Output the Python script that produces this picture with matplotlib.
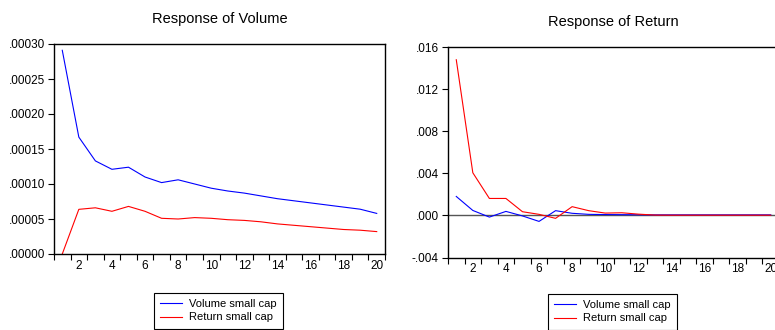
import matplotlib
matplotlib.use("Agg")
import matplotlib.pyplot as plt
from matplotlib.ticker import FixedLocator, FuncFormatter, NullFormatter

plt.rcParams['font.family'] = ['Liberation Sans', 'DejaVu Sans']
plt.rcParams['font.size'] = 8

periods = list(range(1, 21))

# Response of Volume
vol_vol = [0.000291, 0.000167, 0.000133, 0.000121, 0.000124, 0.000110, 0.000102, 0.000106,
           0.000100, 0.000094, 0.000090, 0.000087, 0.000083, 0.000079, 0.000076, 0.000073,
           0.000070, 0.000067, 0.000064, 0.000058]
vol_ret = [0.0, 0.0000638, 0.000066, 0.000061, 0.000068, 0.000061, 0.000051, 0.000050,
           0.000052, 0.000051, 0.000049, 0.000048, 0.000046, 0.000043, 0.000041, 0.000039,
           0.000037, 0.000035, 0.000034, 0.000032]

# Response of Return
ret_vol = [0.0018, 0.00047, -0.00016, 0.00038, -0.00005, -0.00057, 0.00045, 0.0002,
           0.0001, 0.00008, 0.00007, 0.00006, 0.00005, 0.00005, 0.00005, 0.00005,
           0.00005, 0.00005, 0.00005, 0.00005]
ret_ret = [0.01479, 0.00405, 0.00161, 0.00161, 0.00035, 0.0001, -0.00028, 0.00083,
           0.00045, 0.00022, 0.00025, 0.00012, 0.00003, 0.00002, 0.00002, 0.00002,
           0.00002, 0.00002, 0.00002, 0.00002]

labels = ['Volume small cap', 'Return small cap']
W, H = 775, 330


def fmt(v, pos, nd):
    s = f"{v:.{nd}f}"
    return s.replace("0.", ".", 1)


def style_axes(ax, yticks, nd):
    ax.set_xlim(0.5, 20.5)
    ax.xaxis.set_major_locator(FixedLocator([i + 0.5 for i in range(0, 21)]))
    ax.xaxis.set_major_formatter(NullFormatter())
    ax.xaxis.set_minor_locator(FixedLocator(list(range(2, 21, 2))))
    ax.xaxis.set_minor_formatter(FuncFormatter(lambda v, p: f"{int(v)}"))
    ax.tick_params(axis='x', which='major', direction='out', length=4, width=0.8)
    ax.tick_params(axis='x', which='minor', length=0, pad=4, labelsize=8.5)
    ax.set_yticks(yticks)
    ax.yaxis.set_major_formatter(FuncFormatter(lambda v, p: fmt(v, p, nd)))
    ax.tick_params(axis='y', direction='out', length=4, width=0.8, labelsize=8.5, pad=2.5)
    for s in ax.spines.values():
        s.set_linewidth(1.0)


def add_legend(handles, x, y):
    leg = fig.legend(handles, labels, loc='upper left', bbox_to_anchor=(x / W, 1 - y / H),
                     borderaxespad=0, fancybox=False, edgecolor='black', framealpha=1,
                     handlelength=2.0, handletextpad=0.6, labelspacing=0.3,
                     borderpad=0.55, fontsize=8)
    leg.get_frame().set_linewidth(0.8)


fig = plt.figure(figsize=(W / 100, H / 100), dpi=100)

ax1 = fig.add_axes([54 / W, (H - 254) / H, 331 / W, 210 / H])
l1, = ax1.plot(periods, vol_vol, color='#0000ff', lw=0.8)
l2, = ax1.plot(periods, vol_ret, color='#ff0000', lw=0.8)
ax1.set_ylim(0, 0.0003)
style_axes(ax1, [0, 0.00005, 0.0001, 0.00015, 0.0002, 0.00025, 0.0003], 5)
ax1.set_title('Response of Volume', fontsize=10.5, pad=15)
add_legend([l1, l2], 154, 293)

ax2 = fig.add_axes([448 / W, (H - 257.5) / H, 331 / W, 210.5 / H])
ax2.axhline(0, color='#555555', lw=1.0)
l3, = ax2.plot(periods, ret_vol, color='#0000ff', lw=0.8)
l4, = ax2.plot(periods, ret_ret, color='#ff0000', lw=0.8)
ax2.set_ylim(-0.004, 0.016)
style_axes(ax2, [-0.004, 0.0, 0.004, 0.008, 0.012, 0.016], 3)
ax2.set_title('Response of Return', fontsize=10.5, pad=15)
add_legend([l3, l4], 548, 294)

fig.savefig('out.png', dpi=100)
